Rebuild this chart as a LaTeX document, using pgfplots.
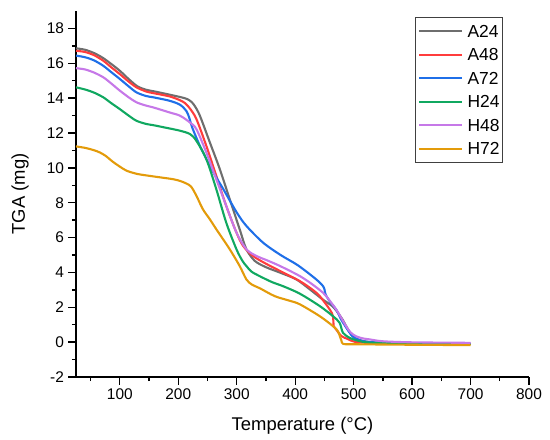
\documentclass[border=0pt]{standalone}
\usepackage{fontspec}
\setmainfont{Liberation Sans}
\usepackage{pgfplots}
\usepackage{pgfplotstable}
\pgfplotsset{compat=1.18}

\definecolor{cA24}{HTML}{6E6E6E}
\definecolor{cA48}{HTML}{FF3C3C}
\definecolor{cA72}{HTML}{1F6FE8}
\definecolor{cH24}{HTML}{10A860}
\definecolor{cH48}{HTML}{C678E8}
\definecolor{cH72}{HTML}{E39B0A}

\pgfplotstableread{
x y
25 16.86
40 16.78
55 16.60
70 16.33
85 15.97
100 15.57
115 15.10
130 14.68
145 14.48
160 14.38
185 14.20
205 14.05
215 13.95
222 13.80
228 13.56
237 12.99
254 11.46
271 9.93
288 8.20
305 6.48
316.5 5.33
331 4.66
350 4.30
374 3.99
402 3.60
425 3.03
447 2.45
464 2.05
475 1.60
481 1.30
490 0.75
498 0.34
510 0.12
522 0.03
540 -0.03
600 -0.07
700 -0.10
}\tA

\pgfplotstableread{
x y
25 16.72
40 16.65
55 16.48
71.5 16.15
85 15.78
100 15.38
115 14.95
128.5 14.62
145 14.38
157 14.29
185 14.10
203 13.88
212 13.70
220 13.40
231 12.80
248 11.26
265 9.54
282 7.82
299.5 6.29
311 5.52
328 4.94
350 4.50
379 4.00
408 3.50
430 3.00
442 2.64
459 1.88
464.5 1.50
466 0.90
470 0.73
479 0.35
490 0.18
502 0.02
530 -0.05
600 -0.08
700 -0.10
}\tB

\pgfplotstableread{
x y
25 16.44
40 16.35
55 16.18
71.5 15.86
85 15.50
100 15.10
115 14.68
128.5 14.33
145 14.12
157 14.05
185 13.85
203 13.62
214 13.25
219 12.85
224 12.30
237 11.26
254 10.11
265 9.45
277 8.78
300 7.44
316.5 6.67
345 5.71
375 5.00
405 4.40
436 3.60
448 3.20
450 3.05
452 2.74
460 2.30
470 1.88
478.6 1.30
487 0.85
498 0.34
510 0.12
530 0.00
600 -0.07
700 -0.10
}\tC

\pgfplotstableread{
x y
25 14.62
40 14.50
55 14.33
71.5 14.05
85 13.72
100 13.37
115 13.00
128.5 12.70
145 12.52
157 12.45
185 12.26
203 12.13
220 11.94
231 11.55
248 10.50
265 8.78
282 6.86
299.5 5.33
310 4.65
316.5 4.37
325 4.05
339 3.79
360 3.45
380 3.20
408 2.78
442 2.07
464.6 1.49
476 1.11
481.7 0.54
493 0.25
510 0.06
530 -0.03
600 -0.08
700 -0.10
}\tD

\pgfplotstableread{
x y
25 15.72
40 15.65
55 15.48
71.5 15.20
85 14.85
100 14.43
115 14.05
128.5 13.76
145 13.57
157 13.47
185 13.18
203 12.99
220 12.60
231 12.22
248 10.88
265 9.35
282 7.82
299.5 6.29
316.5 5.33
334 4.94
350 4.72
374 4.37
408 3.79
430 3.30
447.5 2.84
453 2.64
470 1.88
487 0.92
495 0.55
504 0.34
515 0.22
527 0.16
550 0.05
600 -0.01
700 -0.04
}\tE

\pgfplotstableread{
x y
25 11.23
40 11.15
55 11.02
66 10.88
76 10.68
88 10.35
100 10.07
112 9.83
130 9.65
151 9.54
170 9.45
191 9.35
203 9.25
214 9.10
222 8.92
231 8.40
242 7.63
254 7.05
265 6.48
288 5.33
305 4.37
316.5 3.60
326 3.30
339 3.10
365 2.64
390 2.38
408 2.17
442 1.49
464.6 0.92
473 0.63
479 0.10
482 -0.10
500 -0.12
600 -0.15
700 -0.17
}\tF

\pgfplotsset{tga/.style={line width=2.1bp, line join=round, smooth, tension=0.5}}

\begin{document}
\begin{tikzpicture}
\begin{axis}[
  scale only axis, width=453bp, height=366bp,
  xmin=25, xmax=800, ymin=-2, ymax=19,
  axis lines=left, axis line style={-, line width=1.3bp, black},
  xtick={100,200,...,800}, ytick={-2,0,...,18},
  minor xtick={50,150,...,750}, minor ytick={-1,1,...,17},
  tick align=outside, major tick length=7.5bp, minor tick length=4bp,
  every tick/.style={line width=1.3bp, black},
  /pgf/number format/assume math mode=true,
  ticklabel style={font=\fontsize{15.5}{18}\selectfont},
  xticklabel style={yshift=-1bp},
  yticklabel style={xshift=-1bp},
  label style={font=\fontsize{18.5}{22}\selectfont},
  xlabel={Temperature (°C)},
  ylabel={TGA (mg)},
  xlabel style={at={(axis description cs:0.5,-0.1475)}, anchor=base},
  ylabel style={at={(axis description cs:-0.1126,0.5)}, anchor=base, rotate=0},
  legend style={at={(axis description cs:0.7483,0.9836)}, anchor=north west,
    draw=black!75, line width=0.9bp, fill=white,
    inner xsep=3bp, inner ysep=7.5bp, row sep=11.2bp, column sep=4bp,
    nodes={inner sep=0pt, text height=12.3bp, text depth=0bp},
    font=\fontsize{17.5}{20}\selectfont},
  legend cell align=left,
  legend image code/.code={\draw[#1, line width=2.1bp, sharp plot] (0bp,0bp) -- (43bp,0bp);},
]
\addplot[cA24, tga] table[x=x,y=y] {\tA};
\addplot[cA48, tga] table[x=x,y=y] {\tB};
\addplot[cA72, tga] table[x=x,y=y] {\tC};
\addplot[cH24, tga] table[x=x,y=y] {\tD};
\addplot[cH48, tga] table[x=x,y=y] {\tE};
\addplot[cH72, tga] table[x=x,y=y] {\tF};
\legend{A24,A48,A72,H24,H48,H72}
\end{axis}
\pgfresetboundingbox
\useasboundingbox (-76bp,-63bp) rectangle (474bp,377bp);
\end{tikzpicture}
\end{document}
